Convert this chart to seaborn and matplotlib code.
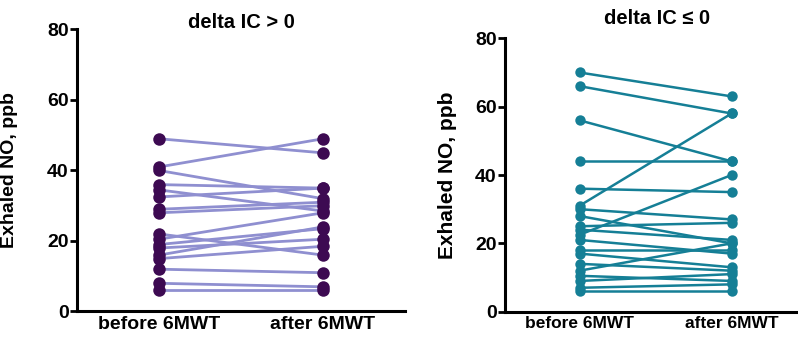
import matplotlib
matplotlib.use("Agg")
import matplotlib.pyplot as plt
import seaborn as sns
import pandas as pd

sns.set_theme(style="white")
plt.rcParams['font.family'] = ['Liberation Sans', 'DejaVu Sans']
plt.rcParams['text.color'] = 'black'
plt.rcParams['axes.labelcolor'] = 'black'
plt.rcParams['xtick.color'] = 'black'
plt.rcParams['ytick.color'] = 'black'

categories = ["before 6MWT", "after 6MWT"]

left_title = "delta IC > 0"
left_before = [49, 41, 40, 36, 34.5, 32.5, 29, 28, 22, 20.5, 19, 18, 16, 15, 12, 8, 6]
left_after = [45, 49, 32, 35, 28.5, 35, 31, 30, 16, 28, 23.5, 20.5, 24, 18.5, 11, 7, 6]

right_title = "delta IC \u2264 0"
right_before = [70, 66, 56, 44, 36, 31, 30, 28, 25, 24, 22.5, 21, 18, 17, 14, 12, 10.5, 9, 7, 6]
right_after = [63, 58, 44, 44, 35, 58, 27, 20, 26, 21, 40, 17, 18, 13, 12, 20, 9, 11, 8, 6]

ylabel = "Exhaled NO, ppb"
yticks = [0, 20, 40, 60, 80]


def make_df(before, after):
    rows = []
    for i, (b, a) in enumerate(zip(before, after)):
        rows.append({"id": i, "pos": 0, "value": b})
        rows.append({"id": i, "pos": 1, "value": a})
    return pd.DataFrame(rows)


W, H = 798, 342
fig = plt.figure(figsize=(W / 100, H / 100), dpi=100)
axL = fig.add_axes([0.0965, 0.0892, 0.411, 0.8246])
axR = fig.add_axes([0.6328, 0.0886, 0.366, 0.7994])

specs = [
    (axL, left_before, left_after, "#8f8fd0", "#3d0a52", 9.0, 2.0, 14, 14, 14),
    (axR, right_before, right_after, "#157f96", "#157f96", 7.5, 1.8, 14, 12.5, 15),
]

for ax, b, a, lc, mc, ms, lw, yfs, xfs, lfs in specs:
    df = make_df(b, a)
    sns.lineplot(data=df, x="pos", y="value", units="id", estimator=None,
                 color=lc, linewidth=lw, ax=ax, legend=False, zorder=2)
    sns.scatterplot(data=df, x="pos", y="value", color=mc, s=ms ** 2,
                    edgecolor=mc, linewidth=0, ax=ax, legend=False, zorder=3)
    ax.set_ylim(0, 80)
    ax.set_yticks(yticks)
    ax.set_yticklabels([str(t) for t in yticks], fontsize=yfs, fontweight="bold",
                       color="black")
    ax.set_xticks([0, 1])
    ax.set_xticklabels(categories, fontsize=xfs, fontweight="bold", color="black")
    ax.set_xlabel("")
    ax.set_ylabel(ylabel, fontsize=lfs, fontweight="bold", color="black")
    for s in ["top", "right"]:
        ax.spines[s].set_visible(False)
    for s in ["left", "bottom"]:
        ax.spines[s].set_linewidth(2.2)
        ax.spines[s].set_color("black")
    ax.tick_params(axis="y", which="both", left=True, length=5, width=2.0,
                   direction="out", pad=1, colors="black")
    ax.tick_params(axis="x", length=0, pad=3, colors="black")
    ax.set_facecolor("white")

axL.set_xlim(-0.5, 1.5)
axR.set_xlim(-0.49, 1.43)
axL.yaxis.set_label_coords(-0.18, 0.5)
axR.yaxis.set_label_coords(-0.165, 0.5)

fig.text(241 / W, 1 - 22 / H, left_title, ha="center", va="center",
         fontsize=14.5, fontweight="bold", color="black")
fig.text(657 / W, 1 - 18 / H, right_title, ha="center", va="center",
         fontsize=14.5, fontweight="bold", color="black")

fig.savefig("out.png", dpi=100, facecolor="white")
